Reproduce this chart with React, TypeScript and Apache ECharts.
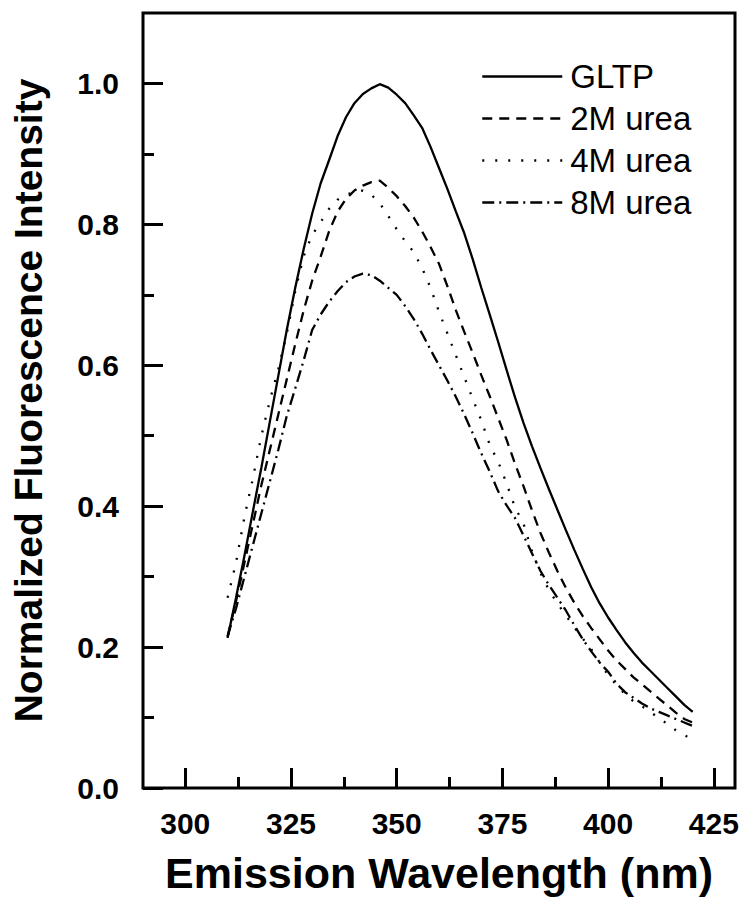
import React, { useEffect, useRef } from "react";
import * as echarts from "echarts";

const wavelengths = [
  310, 312, 314, 316, 318, 320, 322, 324, 326, 328, 330, 332, 334, 336, 338, 340, 342, 344, 346, 348,
  350, 352, 354, 356, 358, 360, 362, 364, 366, 368, 370, 372, 374, 376, 378, 380, 382, 384, 386, 388,
  390, 392, 394, 396, 398, 400, 402, 404, 406, 408, 410, 412, 414, 416, 418, 420,
];

const gltp = [
  0.213, 0.27, 0.33, 0.393, 0.455, 0.52, 0.585, 0.65, 0.71, 0.765, 0.815, 0.858, 0.891, 0.925, 0.952, 0.972, 0.985, 0.993, 0.999, 0.994,
  0.984, 0.972, 0.955, 0.937, 0.91, 0.88, 0.85, 0.818, 0.787, 0.75, 0.71, 0.672, 0.633, 0.593, 0.554, 0.518, 0.485, 0.454, 0.424, 0.395,
  0.366, 0.338, 0.311, 0.285, 0.262, 0.242, 0.224, 0.207, 0.192, 0.178, 0.166, 0.154, 0.142, 0.13, 0.118, 0.108,
];

const urea2M = [
  0.215, 0.265, 0.32, 0.375, 0.43, 0.48, 0.53, 0.58, 0.63, 0.678, 0.72, 0.754, 0.79, 0.818, 0.836, 0.848, 0.855, 0.86, 0.862, 0.852,
  0.84, 0.826, 0.81, 0.79, 0.768, 0.744, 0.712, 0.678, 0.647, 0.617, 0.586, 0.556, 0.525, 0.494, 0.46, 0.428, 0.394, 0.362, 0.334, 0.308,
  0.284, 0.263, 0.244, 0.227, 0.211, 0.195, 0.181, 0.169, 0.157, 0.147, 0.137, 0.127, 0.117, 0.107, 0.098, 0.093,
];

const urea4M = [
  0.27, 0.32, 0.385, 0.44, 0.5, 0.55, 0.595, 0.645, 0.705, 0.755, 0.785, 0.803, 0.822, 0.835, 0.842, 0.846, 0.848, 0.842, 0.83, 0.812,
  0.793, 0.776, 0.761, 0.738, 0.71, 0.676, 0.645, 0.614, 0.583, 0.552, 0.522, 0.487, 0.463, 0.432, 0.398, 0.375, 0.336, 0.305, 0.281, 0.262,
  0.245, 0.228, 0.212, 0.197, 0.178, 0.16, 0.146, 0.133, 0.123, 0.116, 0.108, 0.099, 0.091, 0.082, 0.075, 0.069,
];

const urea8M = [
  0.215, 0.255, 0.3, 0.345, 0.39, 0.435, 0.48, 0.528, 0.567, 0.607, 0.65, 0.672, 0.69, 0.705, 0.718, 0.726, 0.73, 0.728, 0.72, 0.71,
  0.7, 0.684, 0.666, 0.645, 0.622, 0.6, 0.578, 0.555, 0.53, 0.503, 0.475, 0.449, 0.421, 0.401, 0.383, 0.358, 0.333, 0.308, 0.288, 0.27,
  0.252, 0.231, 0.211, 0.194, 0.178, 0.165, 0.148, 0.136, 0.128, 0.12, 0.113, 0.108, 0.103, 0.098, 0.093, 0.088,
];

const seriesNames = ["GLTP", "2M urea", "4M urea", "8M urea"];
const xMajorTicks = [300, 325, 350, 375, 400, 425];
const xMinorTicks = [312.5, 337.5, 362.5, 387.5, 412.5];
const yMajorTicks = [0, 0.2, 0.4, 0.6, 0.8, 1.0];
const yMinorTicks = [0.1, 0.3, 0.5, 0.7, 0.9];

const FONT = "'Liberation Sans', Arial, sans-serif";

export default function App() {
  const ref = useRef<HTMLDivElement>(null);

  useEffect(() => {
    if (!ref.current) return;
    const chart = echarts.init(ref.current, undefined, { renderer: "svg" });
    const allValues = [gltp, urea2M, urea4M, urea8M];
    const dashTypes: any[] = ["solid", [10, 7], [2, 11], [12, 5, 2, 5]];

    const baseX = {
      type: "value",
      position: "bottom",
      min: 290,
      max: 430,
      splitLine: { show: false },
      axisLine: { show: false },
    };
    const baseY = {
      type: "value",
      position: "left",
      min: 0,
      max: 1.1,
      splitLine: { show: false },
      axisLine: { show: false },
    };

    chart.setOption({
      animation: false,
      backgroundColor: "#fff",
      grid: {
        left: 143,
        right: 11,
        top: 13,
        bottom: 115,
        show: true,
        borderColor: "#000",
        borderWidth: 3,
      },
      legend: {
        orient: "vertical",
        left: 476,
        top: 55,
        itemWidth: 80,
        itemHeight: 14,
        itemGap: 9,
        data: seriesNames,
        textStyle: { fontSize: 33, fontFamily: FONT, color: "#000", padding: [0, 0, 0, 3] },
        itemStyle: { opacity: 0 },
        lineStyle: { width: 2.5 },
      },
      xAxis: [
        {
          ...baseX,
          name: "Emission Wavelength (nm)",
          nameLocation: "middle",
          nameGap: 63,
          nameTextStyle: { fontSize: 43, fontWeight: "bold", fontFamily: FONT, color: "#000" },
          axisTick: {
            show: true,
            inside: true,
            length: 20,
            customValues: xMajorTicks,
            lineStyle: { color: "#000", width: 3 },
          },
          axisLabel: {
            show: true,
            customValues: xMajorTicks,
            margin: 20,
            fontSize: 30,
            fontWeight: "bold",
            fontFamily: FONT,
            color: "#000",
          },
        },
        {
          ...baseX,
          axisTick: {
            show: true,
            inside: true,
            length: 11,
            customValues: xMinorTicks,
            lineStyle: { color: "#000", width: 3 },
          },
          axisLabel: { show: false },
        },
      ],
      yAxis: [
        {
          ...baseY,
          name: "Normalized Fluorescence Intensity",
          nameLocation: "middle",
          nameGap: 95,
          nameTextStyle: { fontSize: 39, fontWeight: "bold", fontFamily: FONT, color: "#000" },
          axisTick: {
            show: true,
            inside: true,
            length: 20,
            customValues: yMajorTicks,
            lineStyle: { color: "#000", width: 3 },
          },
          axisLabel: {
            show: true,
            customValues: yMajorTicks,
            margin: 24,
            fontSize: 30,
            fontWeight: "bold",
            fontFamily: FONT,
            color: "#000",
            formatter: (v: number) => v.toFixed(1),
          },
        },
        {
          ...baseY,
          axisTick: {
            show: true,
            inside: true,
            length: 11,
            customValues: yMinorTicks,
            lineStyle: { color: "#000", width: 3 },
          },
          axisLabel: { show: false },
        },
      ],
      series: seriesNames.map((name, i) => ({
        name,
        type: "line",
        xAxisIndex: 0,
        yAxisIndex: 0,
        showSymbol: false,
        symbol: "none",
        color: "#000",
        lineStyle: { color: "#000", width: 2.3, type: dashTypes[i] },
        data: wavelengths.map((w, k) => [w, allValues[i][k]]),
      })),
    });

    return () => chart.dispose();
  }, []);

  return (
    <div
      ref={ref}
      style={{ position: "fixed", left: 0, top: 0, width: 746, height: 903, background: "#fff" }}
    />
  );
}
